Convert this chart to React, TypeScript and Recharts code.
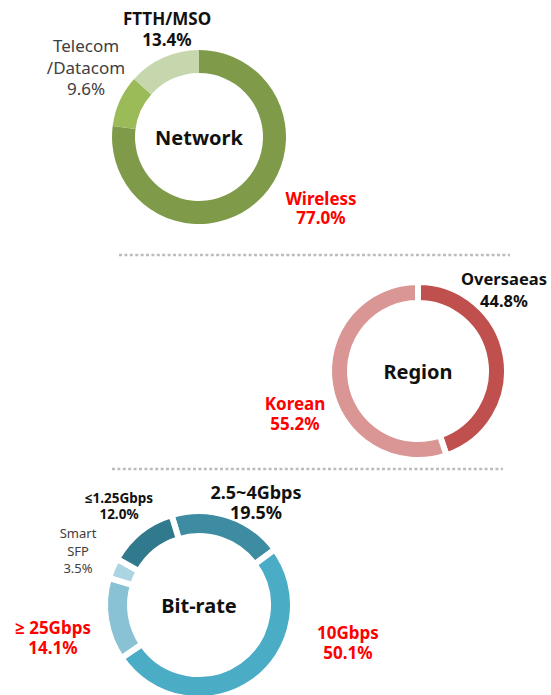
import React from 'react';
import { PieChart, Pie, Cell } from 'recharts';

// ---- data ----
const networkNames = ['Wireless', 'Telecom/Datacom', 'FTTH/MSO'];
const networkValues = [77.0, 9.6, 13.4];
const networkLabelLines = [['Wireless'], ['Telecom', '/Datacom'], ['FTTH/MSO']];

const regionNames = ['Oversaeas', 'Korean'];
const regionValues = [44.8, 55.2];
const regionLabelLines = [['Oversaeas'], ['Korean']];

const bitrateNames = ['2.5~4Gbps', '10Gbps', '≥ 25Gbps', 'Smart SFP', '≤1.25Gbps'];
const bitrateValues = [19.5, 50.1, 14.1, 3.5, 12.0];
const bitrateLabelLines = [['2.5~4Gbps'], ['10Gbps'], ['≥ 25Gbps'], ['Smart', 'SFP'], ['≤1.25Gbps']];

const chartTitles = ['Network', 'Region', 'Bit-rate'];

const toRows = (names: string[], values: number[], lines: string[][]) =>
  names.map((name, i) => ({ name, value: values[i], lines: [...lines[i], values[i].toFixed(1) + '%'] }));

const networkData = toRows(networkNames, networkValues, networkLabelLines);
const regionData = toRows(regionNames, regionValues, regionLabelLines);
const bitrateData = toRows(bitrateNames, bitrateValues, bitrateLabelLines);

// ---- styles / layout ----
const FONT = '"Noto Sans", "Open Sans", sans-serif';
const RED = '#ff0000';
const BLACK = '#111111';
const GRAY = '#404040';

const networkColors = ['#7f9b4a', '#9bbb59', '#c6d7ad'];
const regionColors = ['#c0504d', '#d99694'];
const bitrateColors = ['#3d8ca2', '#4bacc6', '#88c2d4', '#acd5e2', '#31798c'];

type LabelStyle = { x: number; ys: number[]; size: number; bold: boolean; color: string };

const networkLabelLayout: LabelStyle[] = [
  { x: 321, ys: [198, 217], size: 17, bold: true, color: RED },
  { x: 86, ys: [45, 67, 88], size: 17, bold: false, color: GRAY },
  { x: 167, ys: [18, 39], size: 17, bold: true, color: BLACK },
];
const regionLabelLayout: LabelStyle[] = [
  { x: 504, ys: [278, 300], size: 16.5, bold: true, color: BLACK },
  { x: 295, ys: [403, 423], size: 17, bold: true, color: RED },
];
const bitrateLabelLayout: LabelStyle[] = [
  { x: 256, ys: [492, 512], size: 18, bold: true, color: BLACK },
  { x: 348, ys: [632, 652], size: 17, bold: true, color: RED },
  { x: 53, ys: [627, 647], size: 17, bold: true, color: RED },
  { x: 78, ys: [533, 551, 568], size: 13, bold: false, color: GRAY },
  { x: 119, ys: [498, 514], size: 13.5, bold: true, color: BLACK },
];

const makeLabel = (layout: LabelStyle[], title: string) => (props: any) => {
  const { index, payload, cx, cy } = props;
  const l = layout[index];
  const lines: string[] = (payload && payload.lines) || props.lines || [];
  return (
    <g key={'lbl-' + index}>
      {index === 0 && (
        <text
          x={cx}
          y={cy}
          textAnchor="middle"
          dominantBaseline="central"
          fontFamily={FONT}
          fontSize={20}
          fontWeight={700}
          fill={BLACK}
        >
          {title}
        </text>
      )}
      <text
        textAnchor="middle"
        dominantBaseline="central"
        fontFamily={FONT}
        fontSize={l.size}
        fontWeight={l.bold ? 700 : 400}
        fill={l.color}
      >
        {lines.map((t, j) => (
          <tspan key={j} x={l.x} y={l.ys[j]} dominantBaseline="central">
            {t}
          </tspan>
        ))}
      </text>
    </g>
  );
};

const W = 551;
const H = 695;

export default function App() {
  return (
    <div style={{ position: 'absolute', left: 0, top: 0, width: W, height: H, background: '#fff' }}>
      <svg width={W} height={H} style={{ position: 'absolute', left: 0, top: 0 }}>
        <line x1={119} x2={510} y1={255} y2={255} stroke="#bdbdbd" strokeWidth={2.5} strokeDasharray="3 2.4" />
        <line x1={112} x2={503} y1={469} y2={469} stroke="#bdbdbd" strokeWidth={2.5} strokeDasharray="3 2.4" />
      </svg>
      <div style={{ position: 'absolute', left: 0, top: 0 }}>
        <PieChart width={W} height={H} margin={{ top: 0, right: 0, bottom: 0, left: 0 }}>
          <Pie
            data={networkData}
            dataKey="value"
            nameKey="name"
            cx={199}
            cy={137}
            innerRadius={64}
            outerRadius={87}
            startAngle={90}
            endAngle={-270}
            stroke="none"
            label={makeLabel(networkLabelLayout, chartTitles[0])}
            labelLine={false}
            isAnimationActive={false}
          >
            {networkData.map((d, i) => (
              <Cell key={d.name} fill={networkColors[i]} stroke="none" />
            ))}
          </Pie>
          <Pie
            data={regionData}
            dataKey="value"
            nameKey="name"
            cx={418}
            cy={371}
            innerRadius={68}
            outerRadius={89}
            startAngle={90}
            endAngle={-270}
            label={makeLabel(regionLabelLayout, chartTitles[1])}
            labelLine={false}
            isAnimationActive={false}
          >
            {regionData.map((d, i) => (
              <Cell key={d.name} fill={regionColors[i]} stroke="#ffffff" strokeWidth={6} />
            ))}
          </Pie>
          <Pie
            data={bitrateData}
            dataKey="value"
            nameKey="name"
            cx={199}
            cy={605}
            innerRadius={69}
            outerRadius={94}
            startAngle={107}
            endAngle={-253}
            label={makeLabel(bitrateLabelLayout, chartTitles[2])}
            labelLine={false}
            isAnimationActive={false}
          >
            {bitrateData.map((d, i) => (
              <Cell key={d.name} fill={bitrateColors[i]} stroke="#ffffff" strokeWidth={6} />
            ))}
          </Pie>
        </PieChart>
      </div>
    </div>
  );
}
